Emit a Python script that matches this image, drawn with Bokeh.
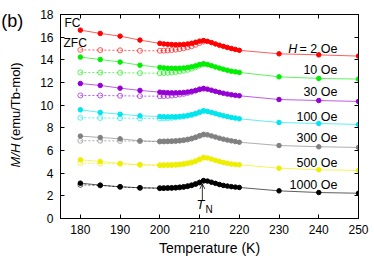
from bokeh.plotting import figure
from bokeh.models import (Range1d, LinearAxis, Label, Arrow, OpenHead, FixedTicker,
                          CustomJSTickFormatter)
from bokeh.embed import file_html
from bokeh.resources import INLINE
import math

# ---------------- data ----------------
T_FC = [180, 185, 190, 195, 200, 201, 202, 203, 204, 205, 206, 207, 208, 209, 210,
        211, 212, 213, 214, 215, 216, 217, 218, 219, 220, 230, 240, 250]
T_ZFC = [180, 185, 190, 195, 200, 201, 202, 203, 204, 205, 206, 207, 208, 209, 210, 211]

fields = ["2", "10", "30", "100", "300", "500", "1000"]
colors = ["#ff0000", "#00ee00", "#9400d3", "#00e5ee", "#808080", "#eeee00", "#000000"]

fc_2 = [16.62, 16.33, 16.09, 15.74, 15.45, 15.40, 15.37, 15.35, 15.34, 15.34, 15.36, 15.40, 15.46, 15.55,
        15.65, 15.70, 15.63, 15.52, 15.40, 15.29, 15.19, 15.09, 15.00, 14.92, 14.84, 14.53, 14.44, 14.33]
zfc_2 = [14.88, 14.86, 14.84, 14.80, 14.80, 14.81, 14.83, 14.86, 14.90, 14.95, 15.02, 15.10, 15.20, 15.33,
         15.48, 15.62]

fc_10 = [14.24, 14.03, 13.80, 13.53, 13.33, 13.29, 13.26, 13.25, 13.25, 13.26, 13.28, 13.32, 13.38, 13.47,
         13.58, 13.65, 13.58, 13.48, 13.37, 13.27, 13.17, 13.08, 13.00, 12.94, 12.89, 12.50, 12.36, 12.30]
zfc_10 = [12.89, 12.88, 12.86, 12.83, 12.82, 12.83, 12.85, 12.88, 12.92, 12.97, 13.04, 13.12, 13.22, 13.35,
          13.50, 13.62]

fc_30 = [11.91, 11.74, 11.50, 11.30, 11.15, 11.12, 11.10, 11.09, 11.09, 11.10, 11.12, 11.16, 11.22, 11.30,
         11.40, 11.47, 11.41, 11.32, 11.22, 11.13, 11.05, 10.98, 10.92, 10.87, 10.83, 10.50, 10.41, 10.33]
zfc_30 = [10.86, 10.85, 10.83, 10.80, 10.79, 10.80, 10.82, 10.85, 10.89, 10.94, 11.00, 11.08, 11.17, 11.28,
          11.39, 11.45]

fc_100 = [9.59, 9.36, 9.20, 9.06, 9.00, 8.98, 8.97, 8.97, 8.98, 9.00, 9.03, 9.08, 9.15, 9.25,
          9.38, 9.50, 9.45, 9.36, 9.26, 9.16, 9.07, 8.99, 8.92, 8.86, 8.80, 8.47, 8.38, 8.30]
zfc_100 = [8.89, 8.87, 8.85, 8.83, 8.82, 8.83, 8.85, 8.88, 8.92, 8.96, 9.01, 9.07, 9.15, 9.25,
           9.37, 9.48]

fc_300 = [7.27, 7.15, 7.03, 6.85, 6.80, 6.80, 6.81, 6.82, 6.84, 6.87, 6.91, 6.97, 7.05, 7.16,
          7.30, 7.42, 7.38, 7.29, 7.19, 7.09, 7.00, 6.92, 6.85, 6.79, 6.73, 6.44, 6.33, 6.27]
zfc_300 = [6.86, 6.86, 6.84, 6.82, 6.79, 6.80, 6.81, 6.82, 6.84, 6.87, 6.91, 6.97, 7.05, 7.16,
           7.29, 7.40]

fc_500 = [5.18, 5.03, 4.85, 4.74, 4.70, 4.70, 4.71, 4.72, 4.74, 4.77, 4.81, 4.87, 4.95, 5.06,
          5.22, 5.38, 5.34, 5.24, 5.13, 5.03, 4.94, 4.87, 4.81, 4.77, 4.74, 4.44, 4.30, 4.24]
zfc_500 = [4.88, 4.85, 4.82, 4.74, 4.70, 4.70, 4.71, 4.72, 4.74, 4.77, 4.81, 4.87, 4.95, 5.06,
           5.21, 5.36]

fc_1000 = [3.12, 2.94, 2.80, 2.71, 2.68, 2.68, 2.69, 2.70, 2.72, 2.75, 2.79, 2.85, 2.93, 3.04,
           3.18, 3.34, 3.30, 3.20, 3.10, 3.00, 2.92, 2.86, 2.81, 2.77, 2.74, 2.44, 2.29, 2.23]
zfc_1000 = [2.97, 2.92, 2.79, 2.70, 2.67, 2.68, 2.69, 2.70, 2.72, 2.75, 2.79, 2.85, 2.93, 3.04,
            3.17, 3.32]

fc_all = [fc_2, fc_10, fc_30, fc_100, fc_300, fc_500, fc_1000]
zfc_all = [zfc_2, zfc_10, zfc_30, zfc_100, zfc_300, zfc_500, zfc_1000]

x_ticks = [180, 190, 200, 210, 220, 230, 240, 250]
y_ticks = [0, 2, 4, 6, 8, 10, 12, 14, 16, 18]

FONT = "Liberation Sans"

# ---------------- figure ----------------
p = figure(width=374, height=262, output_backend="svg", toolbar_location=None,
           x_range=Range1d(175, 250), y_range=Range1d(0, 18))
p.min_border_left = 60
p.min_border_right = 16
p.min_border_top = 14
p.min_border_bottom = 44
p.outline_line_color = "black"
p.outline_line_width = 1
p.xgrid.grid_line_color = None
p.ygrid.grid_line_color = None
p.background_fill_color = "white"
p.border_fill_color = "white"

bottom = p.below[0]
left = p.left[0]
bottom.ticker = FixedTicker(ticks=x_ticks)
left.ticker = FixedTicker(ticks=y_ticks)

blank = CustomJSTickFormatter(code="return '';")
top = LinearAxis(ticker=FixedTicker(ticks=x_ticks), formatter=blank)
right = LinearAxis(ticker=FixedTicker(ticks=y_ticks), formatter=blank)
for ax in (top, right):
    ax.major_label_standoff = 0
p.add_layout(top, "above")
p.add_layout(right, "right")

for ax in [bottom, left, top, right]:
    ax.major_tick_in = 4
    ax.major_tick_out = 0
    ax.minor_tick_line_color = None
    ax.axis_line_color = "black"
    ax.major_tick_line_color = "black"
    ax.major_label_text_font = FONT
    ax.major_label_text_color = "black"

bottom.major_label_text_font_size = "12px"
left.major_label_text_font_size = "12px"
bottom.major_label_standoff = 6
left.major_label_standoff = 7

bottom.axis_label = "Temperature (K)"
bottom.axis_label_text_font = FONT
bottom.axis_label_text_font_size = "14px"
bottom.axis_label_text_font_style = "normal"
bottom.axis_label_text_color = "black"
bottom.axis_label_standoff = 3

# ---------------- data glyphs ----------------
for fc, zfc, col in zip(fc_all, zfc_all, colors):
    p.line(T_ZFC, zfc, line_color=col, line_width=0.8, line_dash="2 2", line_alpha=0.8)
    p.scatter(T_ZFC, zfc, marker="circle", size=5, fill_color=None,
              line_color=col, line_width=0.9, line_alpha=0.7)
    p.line(T_FC, fc, line_color=col, line_width=0.8, line_alpha=0.8)
    p.scatter(T_FC, fc, marker="circle", size=4.5, fill_color=col, line_color=col)

# ---------------- texts ----------------
def make(x, y, text, size="13px", style="normal", align="left", baseline="middle", angle=0.0):
    return Label(x=x, y=y, text=text, text_font=FONT, text_font_size=size,
                 text_font_style=style, text_align=align, text_baseline=baseline,
                 text_color="black", angle=angle)

def lab(*a, **k):
    p.add_layout(make(*a, **k))

label_y = [15.0, 13.06, 11.12, 9.0, 7.06, 4.94, 3.0]
for f, ly in zip(fields, label_y):
    txt = "= 2 Oe" if f == "2" else f + " Oe"
    lab(244.7, ly, txt, size="12.5px", align="right")
lab(234.6, label_y[0], "H", size="12.5px", style="italic", align="right")

lab(176.0, 17.21, "FC", size="12px")
lab(175.75, 15.45, "ZFC", size="12px")

# texts outside the frame: placed in side panels (not clipped to the frame)
p.add_layout(make(160.1, 17.45, "(b)", size="18px"), "left")
p.add_layout(make(163.7, 10.33, "(emu/Tb-mol)", size="13px", align="center",
                  angle=math.pi / 2), "left")
p.add_layout(make(163.7, 5.56, "M/H", size="13px", style="italic", align="center",
                  angle=math.pi / 2), "right")

# T_N marker
p.add_layout(Arrow(end=OpenHead(size=5, line_width=0.8, line_color="black"),
                   x_start=210.7, y_start=1.62, x_end=210.7, y_end=3.05,
                   line_color="black", line_width=0.8))
lab(210.2, 1.2, "T", size="13px", style="italic", align="center")
lab(211.5, 0.8, "N", size="10px", align="left")

open("out.html", "w").write(file_html(p, INLINE))
